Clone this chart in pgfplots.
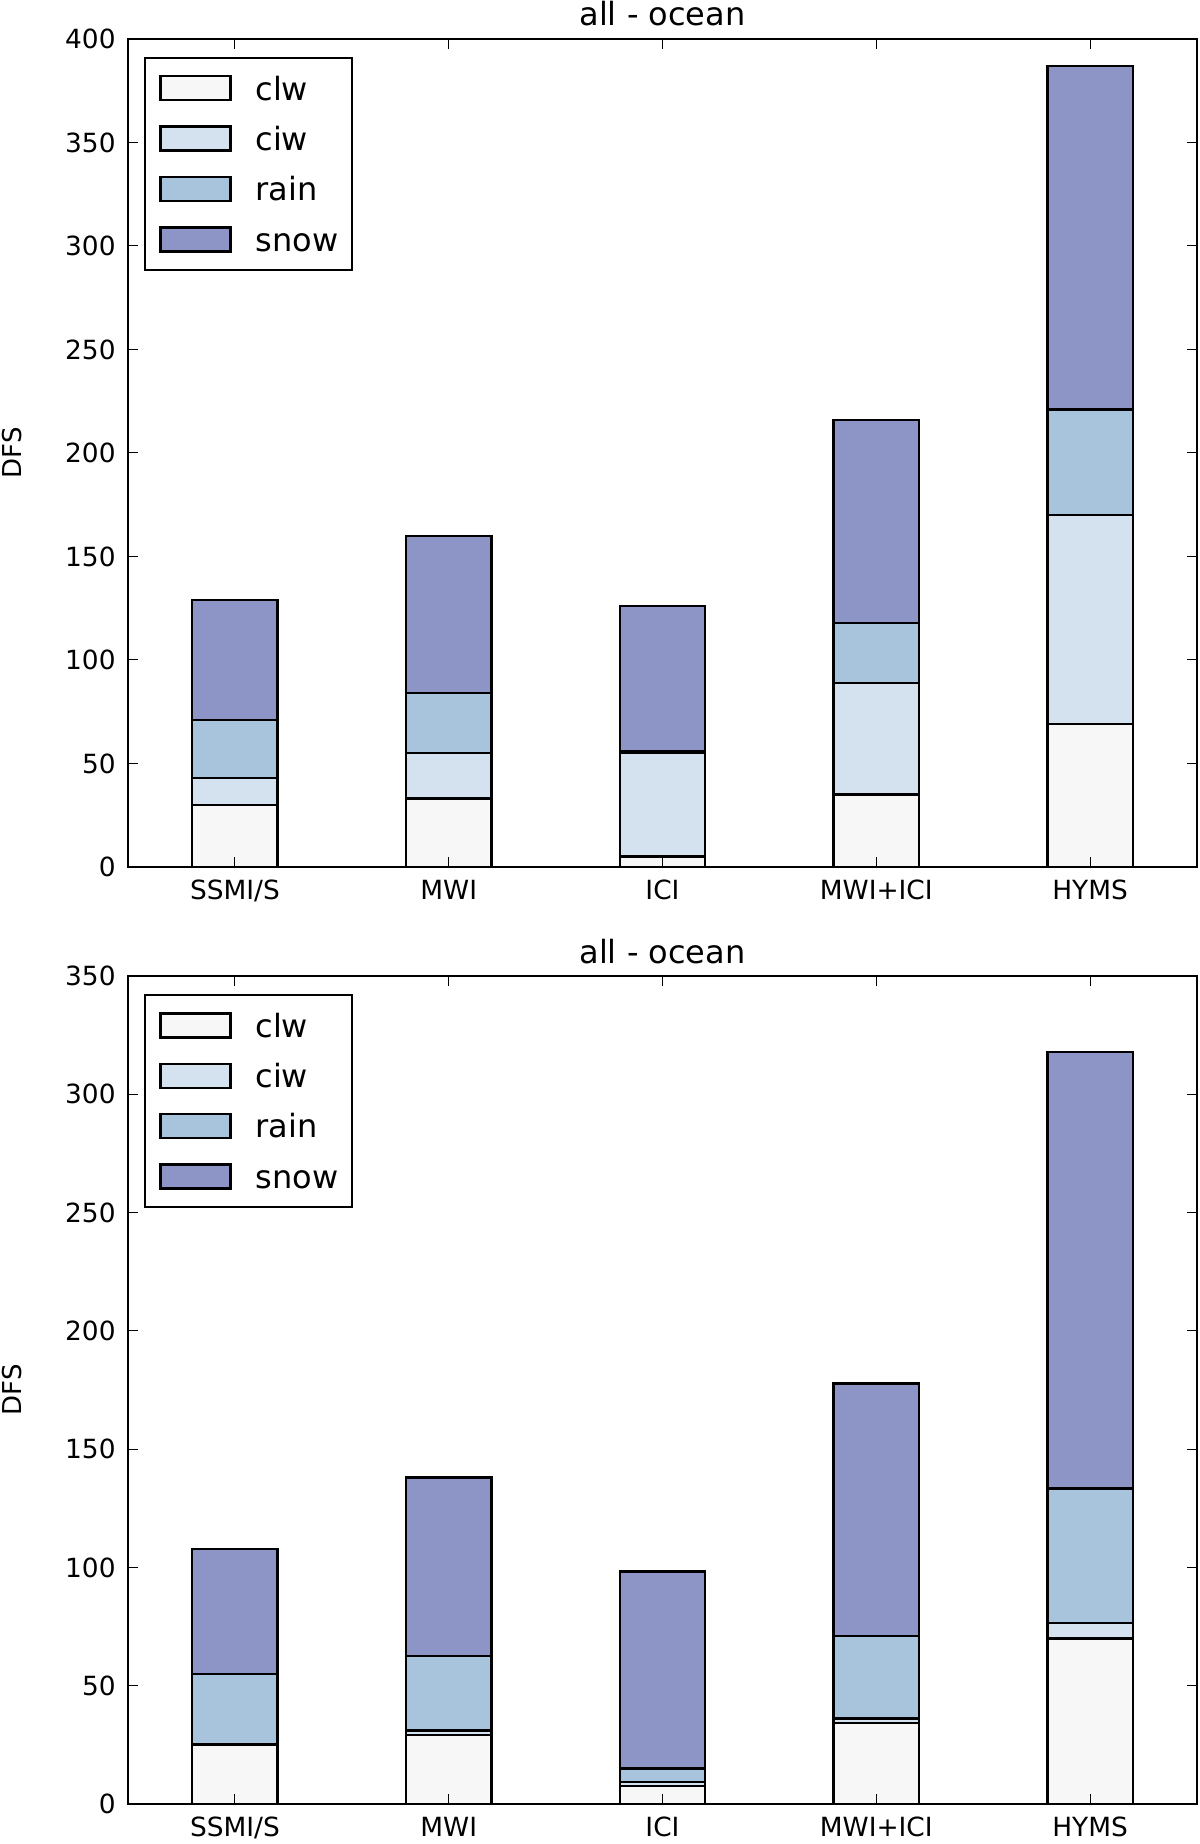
\documentclass[border=0pt]{standalone}
\usepackage{fontspec}
\setmainfont{DejaVu Sans}
\usepackage{pgfplots}
\pgfplotsset{compat=1.18}
\usepackage{pgfplotstable}

\definecolor{clwc}{HTML}{F7F7F7}
\definecolor{ciwc}{HTML}{D3E2EE}
\definecolor{rainc}{HTML}{A7C4DC}
\definecolor{snowc}{HTML}{8C95C5}

\pgfplotstableread{
x clw ciw rain snow
0 30 13 28 58
1 33 22 29 76
2 5 50 1 70
3 35 54 29 98
4 69 101 51 166
}\topdata

\pgfplotstableread{
x clw ciw rain snow
0 25 0.3 29.7 52.7
1 29.2 1.8 31.6 75.4
2 7.7 1.5 5.8 83.2
3 34.2 1.9 34.9 106.7
4 70 6.5 56.9 184.4
}\botdata

\pgfplotsset{
  dfs/.style={
    anchor=south west,
    scale only axis, width=534.5pt, height=414pt,
    xmin=-0.5, xmax=4.5, ymin=0,
    ybar stacked, bar width=0.4,
    axis on top,
    xtick={0,1,2,3,4},
    xticklabels={SSMI/S,MWI,ICI,MWI+ICI,HYMS},
    ytick distance=50,
    tick align=inside,
    major tick length=5pt,
    every tick/.style={black, line width=0.5pt},
    axis line style={line width=1.1pt},
    tick label style={font=\fontsize{13.2}{15}\selectfont},
    /pgf/number format/assume math mode=true,
    yticklabel style={inner sep=0pt, xshift=-6pt},
    xticklabel style={inner sep=0pt, yshift=-6.5pt, text height=9.5pt, text depth=0pt, anchor=north},
    title={all - ocean},
    every axis title/.style={at={(0.5,1)}, anchor=base, yshift=6.5pt, inner sep=0pt, font=\fontsize{16}{19}\selectfont},
    ylabel={DFS},
    every axis y label/.style={at={(axis description cs:0,0.5)}, xshift=-57.75pt, rotate=90, anchor=center, inner sep=0pt, font=\fontsize{13}{15}\selectfont},
    every axis plot/.append style={draw=black, line width=1.2pt},
    legend cell align=left,
    legend image code/.code={\draw[#1,line width=1.2pt] (0pt,-6pt) rectangle (35pt,6pt);},
    legend style={at={(0,1)}, anchor=north west, xshift=8pt, yshift=-9pt,
      draw=black, line width=1.1pt, inner xsep=7pt, inner ysep=8.5pt, row sep=12pt,
      font=\fontsize{16}{19}\selectfont,
      nodes={inner sep=0pt, text height=11.8pt, text depth=0pt},
      /tikz/every odd column/.append style={column sep=12pt}},
  }
}

\begin{document}
\begin{tikzpicture}
\useasboundingbox (0,0) rectangle (600pt,922pt);
\begin{axis}[dfs, at={(64pt,488.5pt)}, ymax=400]
\addplot[fill=clwc] table[x=x,y=clw]{\topdata}; \addlegendentry{clw}
\addplot[fill=ciwc] table[x=x,y=ciw]{\topdata}; \addlegendentry{ciw}
\addplot[fill=rainc] table[x=x,y=rain]{\topdata}; \addlegendentry{rain}
\addplot[fill=snowc] table[x=x,y=snow]{\topdata}; \addlegendentry{snow}
\end{axis}
\begin{axis}[dfs, at={(64pt,20pt)}, ymax=350]
\addplot[fill=clwc] table[x=x,y=clw]{\botdata}; \addlegendentry{clw}
\addplot[fill=ciwc] table[x=x,y=ciw]{\botdata}; \addlegendentry{ciw}
\addplot[fill=rainc] table[x=x,y=rain]{\botdata}; \addlegendentry{rain}
\addplot[fill=snowc] table[x=x,y=snow]{\botdata}; \addlegendentry{snow}
\end{axis}
\end{tikzpicture}
\end{document}
